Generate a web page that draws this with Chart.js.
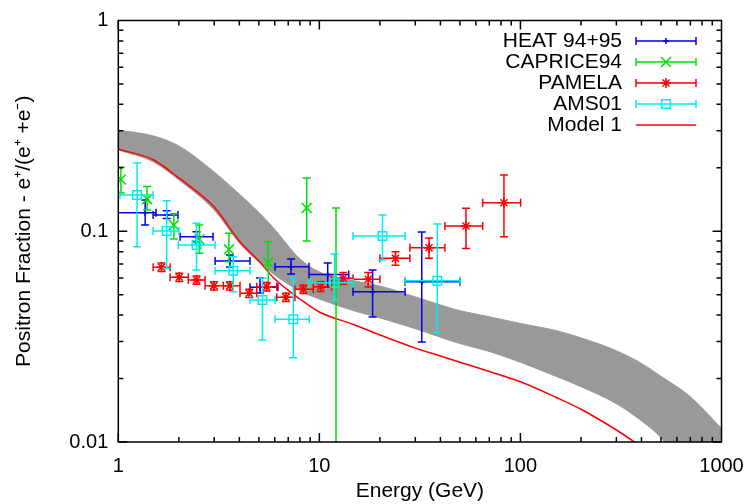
<!DOCTYPE html>
<html>
<head>
<meta charset="utf-8">
<title>Positron fraction</title>
<script src="https://cdn.jsdelivr.net/npm/chart.js@4.4.0/dist/chart.umd.min.js"></script>
<style>
  html, body { margin: 0; padding: 0; background: #fff; }
  #wrap { width: 748px; height: 504px; }
</style>
</head>
<body>
<div id="wrap"><canvas id="chart" width="748" height="504"></canvas></div>
<script>
// axis ticks
const xTicks = [1, 10, 100, 1000];
const yTicks = [0.01, 0.1, 1];

// HEAT 94+95
const heatE    = [1.36, 1.74, 2.45, 3.59, 5.07, 7.23, 11.0, 18.4, 32.3];
const heatEmin = [0.93, 1.49, 2.03, 3.03, 4.52, 6.02, 8.88, 14.7, 26.7];
const heatEmax = [1.54, 1.98, 2.96, 4.52, 6.22, 8.88, 14.0, 26.7, 50.0];
const heatF    = [0.1225, 0.1194, 0.0942, 0.0722, 0.0542, 0.0679, 0.0624, 0.0517, 0.0576];
const heatFmin = [0.1071, 0.1151, 0.0892, 0.0677, 0.0509, 0.0627, 0.0544, 0.0392, 0.0298];
const heatFmax = [0.1407, 0.1252, 0.0995, 0.0772, 0.0600, 0.0738, 0.0707, 0.0655, 0.0992];

// CAPRICE94
const capE    = [1.03, 1.39, 1.89, 2.53, 3.55, 5.57, 8.65, 12.1];
const capF    = [0.176, 0.142, 0.107, 0.0916, 0.0821, 0.0709, 0.129, 0.0574];
const capFmin = [0.152, 0.126, 0.0919, 0.0786, 0.0717, 0.0546, 0.0899, 0.004];
const capFmax = [0.202, 0.163, 0.121, 0.107, 0.0978, 0.0892, 0.179, 0.129];

// PAMELA
const pamE    = [1.64, 2.01, 2.45, 2.99, 3.59, 4.48, 5.47, 6.82, 8.32, 10.15, 13.15, 17.5, 23.9, 35.1, 53.6, 82.8];
const pamEmin = [1.49, 1.81, 2.23, 2.70, 3.33, 4.03, 4.88, 6.14, 7.56, 9.33, 11.5, 14.7, 20.0, 28.2, 42.1, 64.9];
const pamEmax = [1.81, 2.23, 2.70, 3.33, 4.03, 4.88, 6.14, 7.56, 9.33, 11.5, 14.7, 20.0, 28.2, 42.1, 64.9, 100.2];
const pamF    = [0.0675, 0.0605, 0.0587, 0.0551, 0.0551, 0.0508, 0.0546, 0.0486, 0.0530, 0.0546, 0.0598, 0.0592, 0.0744, 0.0835, 0.1059, 0.1366];
const pamFmin = [0.0645, 0.0578, 0.0561, 0.0527, 0.0527, 0.0485, 0.0521, 0.0464, 0.0506, 0.0518, 0.0560, 0.0544, 0.0690, 0.0744, 0.0828, 0.0942];
const pamFmax = [0.0706, 0.0632, 0.0614, 0.0576, 0.0576, 0.0531, 0.0571, 0.0508, 0.0555, 0.0576, 0.0638, 0.0637, 0.0800, 0.0929, 0.1284, 0.1849];

// AMS01
const amsE    = [1.24, 1.74, 2.45, 3.73, 5.21, 7.42, 11.9, 20.6, 38.6];
const amsEmin = [1.02, 1.49, 1.99, 3.03, 4.52, 6.02, 8.88, 14.7, 26.7];
const amsEmax = [1.49, 2.00, 3.03, 4.52, 6.02, 8.91, 14.7, 26.7, 50.0];
const amsF    = [0.1486, 0.1003, 0.0861, 0.0650, 0.0472, 0.0382, 0.0570, 0.0950, 0.0583];
const amsFmin = [0.0845, 0.0667, 0.0655, 0.0517, 0.0305, 0.0251, 0.0472, 0.0730, 0.0330];
const amsFmax = [0.2108, 0.1396, 0.1091, 0.0757, 0.0598, 0.0600, 0.0780, 0.1194, 0.1082];

// Model 1
const modelE = [1, 1.5, 2, 3, 4, 5, 6, 8, 10, 15, 20, 30, 40, 50, 70, 100, 150, 200, 300, 400];
const modelF = [0.2456, 0.2178, 0.179, 0.1303, 0.0899, 0.0722, 0.0593, 0.0477, 0.0414, 0.0359, 0.0322, 0.0279, 0.0256, 0.0239, 0.0216, 0.0193, 0.0163, 0.0143, 0.0114, 0.0095];

// grey band (upper / lower edge)
const bandE  = [1, 1.5, 2, 3, 4, 5, 6, 8, 10, 15, 20, 30, 50, 70, 100, 150, 200, 300, 400, 500, 700, 1000];
const bandHi = [0.302, 0.283, 0.254, 0.191, 0.150, 0.123, 0.102, 0.0740, 0.0641, 0.0581, 0.0550, 0.0488, 0.0420, 0.0393, 0.0365, 0.0338, 0.0312, 0.0271, 0.0236, 0.0205, 0.0164, 0.0116];
const bandLo = [0.243, 0.213, 0.175, 0.126, 0.0879, 0.0715, 0.062, 0.0521, 0.0477, 0.0418, 0.0388, 0.0345, 0.0293, 0.0269, 0.0239, 0.0205, 0.0183, 0.0152, 0.0126, 0.0105, 0.0070, 0.0045];

const FONT = '"Liberation Sans", Arial, Helvetica, sans-serif';

const pts = (xs, ys) => xs.map((x, i) => ({ x: x, y: ys[i] }));

// error bars drawn under each marker set
const errorBars = {
  id: 'errorBars',
  beforeDatasetDraw(chart, args) {
    const ds = chart.data.datasets[args.index];
    if (!ds.errors) return;
    const { ctx, chartArea: a, scales: { x, y } } = chart;
    const e = ds.errors;
    const cap = 4;
    ctx.save();
    ctx.beginPath();
    ctx.rect(a.left, a.top, a.right - a.left, a.bottom - a.top);
    ctx.clip();
    ctx.strokeStyle = ds.borderColor;
    ctx.lineWidth = 1.5;
    ctx.beginPath();
    ds.data.forEach((p, i) => {
      const px = x.getPixelForValue(p.x);
      const py = y.getPixelForValue(p.y);
      if (e.xMin) {
        const x0 = x.getPixelForValue(e.xMin[i]);
        const x1 = x.getPixelForValue(e.xMax[i]);
        ctx.moveTo(x0, py); ctx.lineTo(x1, py);
        ctx.moveTo(x0, py - cap); ctx.lineTo(x0, py + cap);
        ctx.moveTo(x1, py - cap); ctx.lineTo(x1, py + cap);
      }
      const y0 = y.getPixelForValue(e.yMin[i]);
      const y1 = y.getPixelForValue(e.yMax[i]);
      ctx.moveTo(px, y0); ctx.lineTo(px, y1);
      ctx.moveTo(px - cap, y0); ctx.lineTo(px + cap, y0);
      ctx.moveTo(px - cap, y1); ctx.lineTo(px + cap, y1);
    });
    ctx.stroke();
    ctx.restore();
  }
};

// frame with inward major/minor ticks on all four sides
const frame = {
  id: 'frame',
  afterDatasetsDraw(chart) {
    const { ctx, chartArea: a, scales: { x, y } } = chart;
    ctx.save();
    ctx.strokeStyle = '#000';
    ctx.lineWidth = 1.5;
    ctx.beginPath();
    xTicks.slice(0, -1).forEach(d => {
      for (let m = 1; m < 10; m++) {
        const px = x.getPixelForValue(d * m);
        const len = m === 1 ? 9 : 5;
        ctx.moveTo(px, a.bottom); ctx.lineTo(px, a.bottom - len);
        ctx.moveTo(px, a.top); ctx.lineTo(px, a.top + len);
      }
    });
    yTicks.slice(0, -1).forEach(d => {
      for (let m = 1; m < 10; m++) {
        const py = y.getPixelForValue(d * m);
        const len = m === 1 ? 9 : 5;
        ctx.moveTo(a.left, py); ctx.lineTo(a.left + len, py);
        ctx.moveTo(a.right, py); ctx.lineTo(a.right - len, py);
      }
    });
    ctx.stroke();
    ctx.strokeRect(a.left, a.top, a.right - a.left, a.bottom - a.top);
    ctx.restore();
  }
};

// gnuplot style key: text right aligned, sample on the right
const key = {
  id: 'key',
  afterDraw(chart) {
    const { ctx } = chart;
    const rows = chart.data.datasets.filter(d => d.inKey);
    ctx.save();
    ctx.font = '21px ' + FONT;
    ctx.textAlign = 'right';
    ctx.textBaseline = 'middle';
    rows.forEach((ds, i) => {
      const ry = 41 + i * 21;
      ctx.fillStyle = '#000';
      ctx.fillText(ds.label, 622, ry);
      ctx.strokeStyle = ds.borderColor;
      ctx.fillStyle = 'rgba(0,0,0,0)';
      ctx.lineWidth = 1.5;
      ctx.beginPath();
      ctx.moveTo(636, ry); ctx.lineTo(696, ry);
      if (ds.errors) {
        ctx.moveTo(636, ry - 4); ctx.lineTo(636, ry + 4);
        ctx.moveTo(696, ry - 4); ctx.lineTo(696, ry + 4);
      }
      ctx.stroke();
      if (ds.errors && Chart.helpers && Chart.helpers.drawPoint) {
        Chart.helpers.drawPoint(ctx, {
          pointStyle: ds.pointStyle, radius: ds.pointRadius, borderWidth: 1.5, rotation: 0
        }, 666, ry);
      }
    });
    ctx.restore();
  }
};

const markerSet = (label, color, style, radius, xs, ys, xMin, xMax, yMin, yMax, order) => ({
  label: label,
  data: pts(xs, ys),
  showLine: false,
  pointStyle: style,
  pointRadius: radius,
  pointBorderWidth: 1.5,
  borderColor: color,
  backgroundColor: 'rgba(0,0,0,0)',
  errors: { xMin: xMin, xMax: xMax, yMin: yMin, yMax: yMax },
  inKey: true,
  order: order
});

new Chart(document.getElementById('chart'), {
  type: 'scatter',
  data: {
    datasets: [
      markerSet('HEAT 94+95', '#0000ee', 'cross', 3, heatE, heatF, heatEmin, heatEmax, heatFmin, heatFmax, 4),
      markerSet('CAPRICE94', '#00e000', 'crossRot', 7, capE, capF, null, null, capFmin, capFmax, 3),
      markerSet('PAMELA', '#ff0000', 'star', 5, pamE, pamF, pamEmin, pamEmax, pamFmin, pamFmax, 2),
      markerSet('AMS01', '#00eeee', 'rect', 6, amsE, amsF, amsEmin, amsEmax, amsFmin, amsFmax, 1),
      {
        label: 'Model 1',
        data: pts(modelE, modelF),
        showLine: true,
        pointRadius: 0,
        borderColor: '#ff0000',
        borderWidth: 1.5,
        cubicInterpolationMode: 'monotone',
        inKey: true,
        order: 5
      },
      {
        label: 'band upper',
        data: pts(bandE, bandHi),
        showLine: true,
        pointRadius: 0,
        borderColor: '#999999',
        borderWidth: 1,
        cubicInterpolationMode: 'monotone',
        order: 8
      },
      {
        label: 'band lower',
        data: pts(bandE, bandLo),
        showLine: true,
        pointRadius: 0,
        borderColor: '#999999',
        borderWidth: 1,
        backgroundColor: '#999999',
        fill: '-1',
        cubicInterpolationMode: 'monotone',
        order: 7
      }
    ]
  },
  options: {
    responsive: false,
    animation: false,
    events: [],
    devicePixelRatio: 1,
    layout: { padding: { top: 20.5, right: 26.5, bottom: 0, left: 0 } },
    plugins: {
      legend: { display: false },
      tooltip: { enabled: false }
    },
    scales: {
      x: {
        type: 'logarithmic',
        min: 1,
        max: 1000,
        afterBuildTicks: s => { s.ticks = xTicks.map(v => ({ value: v })); },
        afterFit: s => { s.height = 62; s.paddingLeft = 0; s.paddingRight = 0; },
        grid: { display: false, drawTicks: false },
        border: { display: false },
        ticks: {
          color: '#000', autoSkip: false, maxRotation: 0, padding: 12,
          font: { family: FONT, size: 20 },
          callback: v => String(v)
        },
        title: {
          display: true, text: 'Energy (GeV)', color: '#000',
          font: { family: FONT, size: 21, lineHeight: 1.2 },
          padding: { top: 0, bottom: 0 }
        }
      },
      y: {
        type: 'logarithmic',
        min: 0.01,
        max: 1,
        afterBuildTicks: s => { s.ticks = yTicks.map(v => ({ value: v })); },
        afterFit: s => { s.width = 118.3; s.paddingTop = 0; s.paddingBottom = 0; },
        grid: { display: false, drawTicks: false },
        border: { display: false },
        ticks: {
          color: '#000', autoSkip: false, padding: 10,
          font: { family: FONT, size: 20 },
          callback: v => String(v)
        },
        title: {
          display: true, text: 'Positron Fraction - e\u207A/(e\u207A +e\u207B)', color: '#000',
          font: { family: FONT, size: 21, lineHeight: 1.2 },
          padding: { top: 12, bottom: 0 }
        }
      }
    }
  },
  plugins: [errorBars, frame, key]
});
</script>
</body>
</html>
